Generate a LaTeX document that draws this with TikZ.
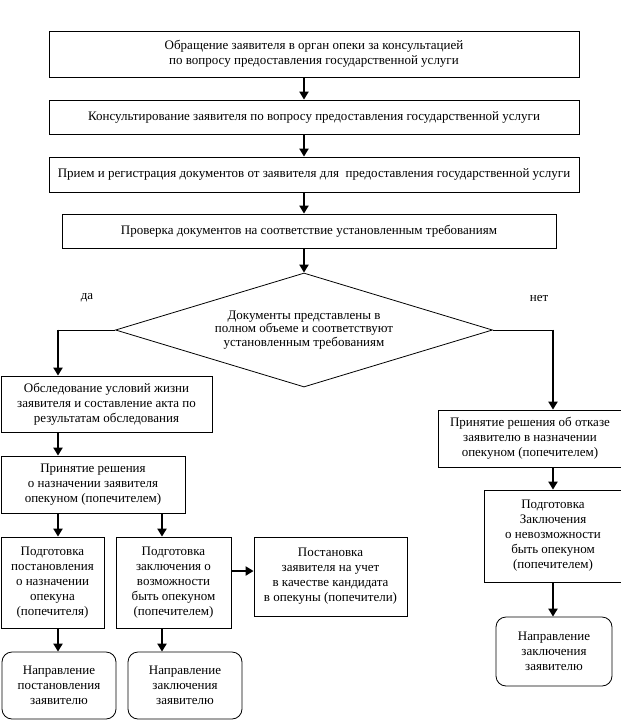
\documentclass[tikz,border=0pt]{standalone}
\usepackage{fontspec}
\setmainfont{Liberation Serif}
\usetikzlibrary{shapes.geometric,arrows.meta}
\begin{document}
\begin{tikzpicture}[x=1pt,y=-1pt,
  box/.style={draw,line width=0.8pt,rectangle,inner sep=0pt,align=center,font=\fontsize{13}{15}\selectfont},
  rbox/.style={box,rounded corners=10pt},
  arr/.style={line width=2.4pt,-{Triangle[width=9pt,length=8pt]}},
  thinline/.style={line width=0.8pt},
  lbl/.style={inner sep=0pt,font=\fontsize{13}{15}\selectfont}]
\useasboundingbox (0,0) rectangle (621,721);
\clip (0,0) rectangle (621,721);
% top chain
\node[box,minimum width=530,minimum height=46] (b1) at (314,54) {Обращение заявителя в орган опеки за консультацией\\по вопросу предоставления государственной услуги};
\node[box,minimum width=530,minimum height=34] (b2) at (314,117) {Консультирование заявителя по вопросу предоставления государственной услуги};
\node[box,minimum width=530,minimum height=35] (b3) at (314,174.5) {Прием и регистрация документов от заявителя для\ \ предоставления государственной услуги};
\node[box,minimum width=494,minimum height=34] (b4) at (309,231) {Проверка документов на соответствие установленным требованиям};
\node[draw,thinline,diamond,shape aspect=3.3,minimum width=377,minimum height=114,inner sep=0pt,align=center,font=\fontsize{13}{13.5}\selectfont] (dia) at (304,330) {Документы представлены в\\полном объеме и соответствуют\\установленным требованиям};
\node[lbl] (da) at (87,298) {да};
\node[lbl] (net) at (539,298) {нет};
% left branch
\node[box,minimum width=211,minimum height=56] (b5) at (106.5,404) {Обследование условий жизни\\заявителя и составление акта по\\результатам обследования};
\node[box,minimum width=184,minimum height=57] (b6) at (93,484.5) {Принятие решения\\о назначении заявителя\\опекуном (попечителем)};
\node[box,minimum width=103,minimum height=91] (b7) at (52.5,582.5) {Подготовка\\постановления\\о назначении\\опекуна\\(попечителя)};
\node[box,minimum width=115,minimum height=91] (b8) at (173.5,582.5) {Подготовка\\заключения о\\возможности\\быть опекуном\\(попечителем)};
\node[box,minimum width=153,minimum height=79] (b9) at (330.5,576.5) {Постановка\\заявителя на учет\\в качестве кандидата\\в опекуны (попечители)};
\node[rbox,minimum width=114,minimum height=67] (b10) at (59,685.5) {Направление\\постановления\\заявителю};
\node[rbox,minimum width=114,minimum height=67] (b11) at (185,685.5) {Направление\\заключения\\заявителю};
% right branch
\node[box,minimum width=184,minimum height=57] (r1) at (530,438.5) {Принятие решения об отказе\\заявителю в назначении\\опекуном (попечителем)};
\node[box,minimum width=138,minimum height=92] (r2) at (553,536) {Подготовка\\Заключения\\о невозможности\\быть опекуном\\(попечителем)};
\node[rbox,minimum width=116,minimum height=69] (r3) at (554,651.5) {Направление\\заключения\\заявителю};
% column coordinates
\coordinate (cL) at (58,0);
\coordinate (cM) at (162,0);
\coordinate (cR) at (553,0);
\coordinate (rowP) at (0,571);
% connectors
\draw[arr] (b1.south -| dia.north) -- (b2.north -| dia.north);
\draw[arr] (b2.south -| dia.north) -- (b3.north -| dia.north);
\draw[arr] (b3.south -| dia.north) -- (b4.north -| dia.north);
\draw[arr] (b4.south -| dia.north) -- (dia.north);
\draw[thinline] (dia.west) -- (dia.west -| cL);
\draw[arr] ([yshift=0.4pt]dia.west -| cL) -- (b5.north -| cL);
\draw[arr] (b5.south -| cL) -- (b6.north -| cL);
\draw[arr] (b6.south -| cL) -- (b7.north -| cL);
\draw[arr] (b6.south -| cM) -- (b8.north -| cM);
\draw[arr] (b7.south -| cL) -- (b10.north -| cL);
\draw[arr] (b8.south -| cM) -- (b11.north -| cM);
\draw[arr] (b8.east |- rowP) -- (b9.west |- rowP);
\draw[thinline] (dia.east) -- (dia.east -| cR);
\draw[arr] ([yshift=0.4pt]dia.east -| cR) -- (r1.north -| cR);
\draw[arr] (r1.south -| cR) -- (r2.north -| cR);
\draw[arr] (r2.south -| cR) -- (r3.north -| cR);
\end{tikzpicture}
\end{document}
